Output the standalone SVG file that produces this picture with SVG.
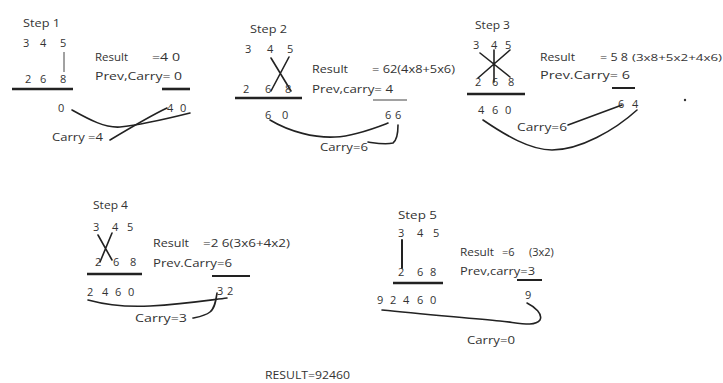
<svg xmlns="http://www.w3.org/2000/svg" width="723" height="383" viewBox="0 0 723 383">
<style>
.t{font-family:"Open Sans","Liberation Sans",sans-serif;font-size:11px;fill:#333}
.s{font-size:9px}
.l{stroke:#222;fill:none;stroke-width:1.6;stroke-linecap:round}
.thin{stroke:#444;fill:none;stroke-width:1}
.u{stroke:#222;fill:none;stroke-width:2.6}
</style>
<rect width="723" height="383" fill="#fff"/>
<g id="step1">
<text class="t" x="23" y="27" textLength="37" lengthAdjust="spacingAndGlyphs">Step 1</text>
<text class="t" x="23 40 60" y="47">345</text>
<path class="thin" d="M64,52 L64,72"/>
<text class="t" x="25 40 60" y="83">268</text>
<path class="u" d="M12,89 L73,89"/>
<text class="t" x="95" y="61" textLength="33" lengthAdjust="spacingAndGlyphs">Result</text>
<text class="t" x="152" y="61" textLength="28" lengthAdjust="spacingAndGlyphs">=4 0</text>
<text class="t" x="95" y="80" textLength="87" lengthAdjust="spacingAndGlyphs">Prev,Carry=  0</text>
<path class="u" d="M162,89 L190,89"/>
<text class="t" x="58" y="112">0</text>
<text class="t" x="167 180" y="112">40</text>
<text class="t" x="52" y="141" textLength="51" lengthAdjust="spacingAndGlyphs">Carry =4</text>
</g>
<g id="step2">
<text class="t" x="250" y="33" textLength="37" lengthAdjust="spacingAndGlyphs">Step 2</text>
<text class="t" x="245 267 287" y="53">345</text>
<path class="l" d="M271,58 L291,91 M289,57 L271,91"/>
<text class="t" x="243 265 285" y="93">268</text>
<path class="u" d="M235,98 L302,98"/>
<text class="t" x="312" y="73" textLength="36" lengthAdjust="spacingAndGlyphs">Result</text>
<text class="t" x="372" y="73" textLength="83" lengthAdjust="spacingAndGlyphs">= 62(4x8+5x6)</text>
<text class="t" x="312" y="93" textLength="81" lengthAdjust="spacingAndGlyphs">Prev,carry= 4</text>
<path class="thin" d="M373,100 L407,100"/>
<text class="t" x="265 282" y="119">60</text>
<text class="t" x="385 395" y="119">66</text>
<text class="t" x="320" y="151" textLength="48" lengthAdjust="spacingAndGlyphs">Carry=6</text>
</g>
<g id="step3">
<text class="t" x="475" y="29" textLength="35" lengthAdjust="spacingAndGlyphs">Step 3</text>
<text class="t" x="473 491 505" y="49">345</text>
<path class="l" d="M480,53 L510,77 M510,50 L478,78 M494,50 L494,82"/>
<text class="t" x="475 492 508" y="86">268</text>
<path class="u" d="M467,94 L525,94"/>
<text class="t" x="540" y="61" textLength="35" lengthAdjust="spacingAndGlyphs">Result</text>
<text class="t" x="600" y="61" textLength="28" lengthAdjust="spacingAndGlyphs">= 5 8</text>
<text class="t s" x="632" y="61" textLength="90" lengthAdjust="spacingAndGlyphs">(3x8+5x2+4x6)</text>
<text class="t" x="540" y="79" textLength="90" lengthAdjust="spacingAndGlyphs">Prev.Carry=  6</text>
<path class="u" d="M612,88 L635,88" style="stroke-width:2"/>
<circle cx="685" cy="100" r="1.2" fill="#333"/>
<text class="t" x="478 492 505" y="114">460</text>
<text class="t" x="618 632" y="108">64</text>
<text class="t" x="517" y="131" textLength="50" lengthAdjust="spacingAndGlyphs">Carry=6</text>
</g>
<g id="step4">
<text class="t" x="93" y="209" textLength="35" lengthAdjust="spacingAndGlyphs">Step 4</text>
<text class="t" x="93 112 127" y="231">345</text>
<path class="l" d="M98,235 L112,260 M112,233 L100,262"/>
<text class="t" x="95 113 130" y="266">268</text>
<path class="u" d="M87,274 L142,274"/>
<text class="t" x="153" y="247" textLength="36" lengthAdjust="spacingAndGlyphs">Result</text>
<text class="t" x="203" y="247" textLength="87" lengthAdjust="spacingAndGlyphs">=2 6(3x6+4x2)</text>
<text class="t" x="153" y="267" textLength="79" lengthAdjust="spacingAndGlyphs">Prev.Carry=6</text>
<path class="u" d="M212,276 L250,276" style="stroke-width:2"/>
<text class="t" x="87 102 115 128" y="296">2460</text>
<text class="t" x="217 227" y="295">32</text>
<text class="t" x="135" y="322" textLength="52" lengthAdjust="spacingAndGlyphs">Carry=3</text>
</g>
<g id="step5">
<text class="t" x="398" y="219" textLength="39" lengthAdjust="spacingAndGlyphs">Step 5</text>
<text class="t" x="398 417 433" y="237">345</text>
<path class="l" d="M402,240 L402,268" style="stroke-width:2"/>
<text class="t" x="398 417 430" y="276">268</text>
<path class="u" d="M393,283 L443,283"/>
<text class="t" x="460" y="256" textLength="34" lengthAdjust="spacingAndGlyphs">Result</text>
<text class="t" x="502" y="256">=6 <tspan x="529">(3x2)</tspan></text>
<text class="t" x="460" y="275" textLength="75" lengthAdjust="spacingAndGlyphs">Prev,carry=3</text>
<path class="u" d="M517,280 L542,280" style="stroke-width:2"/>
<text class="t" x="377 390 403 417 430" y="304">92460</text>
<text class="t" x="525" y="299">9</text>
<text class="t" x="467" y="344" textLength="48" lengthAdjust="spacingAndGlyphs">Carry=0</text>
</g>
<g id="result">
<text class="t" x="265" y="379" textLength="85" lengthAdjust="spacingAndGlyphs" style="font-size:10px">RESULT=92460</text>
</g>
<g id="connectors">
<path class="l" d="M72,110 C90,120 105,128 120,127 C140,125 170,118 190,113"/>
<path class="l" d="M110,140 C130,128 150,116 167,108"/>
<path class="l" d="M270,120 C290,132 315,138 335,137 C355,136 375,128 388,123"/>
<path class="l" d="M398,125 C398,132 397,140 393,143 C385,145 375,143 368,142"/>
<path class="l" d="M568,125 L622,105"/>
<path class="l" d="M483,120 C505,135 530,150 552,150 C580,150 615,130 637,110"/>
<path class="l" d="M88,300 C110,306 130,307 150,306 C185,304 210,300 227,298"/>
<path class="l" d="M217,293 C216,300 215,308 210,312 C205,316 198,317 193,318"/>
<path class="l" d="M382,310 C420,314 470,318 500,321 C520,323 535,327 540,320 C543,314 535,307 527,303"/>
</g>
</svg>
